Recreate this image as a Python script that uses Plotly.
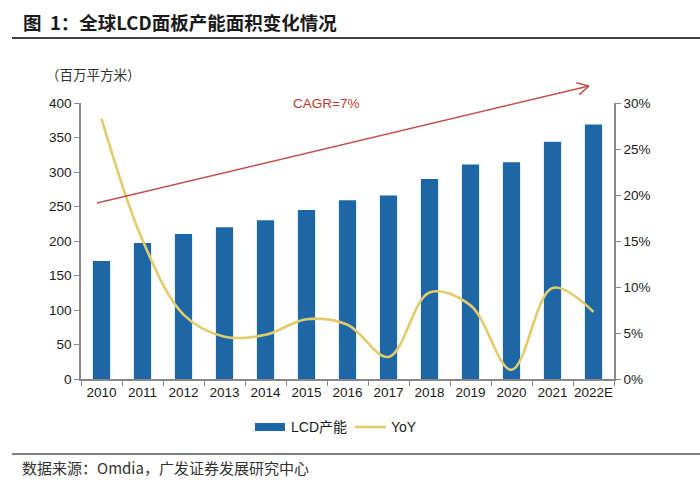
import math
import plotly.graph_objects as go

years = ["2010", "2011", "2012", "2013", "2014", "2015", "2016", "2017", "2018", "2019", "2020", "2021", "2022E"]
lcd_capacity = [171, 197, 210, 220, 230, 245, 259, 266, 290, 311, 314, 344, 369]
yoy = [0.283, 0.151, 0.070, 0.046, 0.048, 0.065, 0.059, 0.024, 0.094, 0.080, 0.010, 0.099, 0.073]

FONT = "Liberation Sans, Arial, Noto Sans CJK SC"
CJK = "Noto Sans CJK SC, Liberation Sans"
W, H = 700, 487
L, R, T, B = 81, 86, 103, 108
pw, ph = W - L - R, H - T - B
BAR_COLOR = "#1D67A7"
LINE_COLOR = "#E2CB6B"


def px(x):
    return (x - L) / pw


def py(y):
    return (H - B - y) / ph


fig = go.Figure()
fig.add_trace(go.Bar(
    x=years, y=lcd_capacity, name="LCD产能",
    marker=dict(color=BAR_COLOR, line=dict(width=0)),
    yaxis="y", showlegend=False,
))
fig.add_trace(go.Scatter(
    x=years, y=yoy, name="YoY", mode="lines",
    line=dict(color=LINE_COLOR, width=2.6, shape="spline", smoothing=1.0),
    yaxis="y2", showlegend=False,
))

# arrow (CAGR annotation)
x0, y0, x1, y1 = 97, 203, 589, 86
ang = math.atan2(y1 - y0, x1 - x0)
wl = 13
shapes = [
    dict(type="line", xref="paper", yref="paper", x0=px(x0), y0=py(y0), x1=px(x1), y1=py(y1),
         line=dict(color="#C0504D", width=1.5)),
]
for s in (1, -1):
    a = ang + math.pi - s * math.radians(28)
    shapes.append(dict(type="line", xref="paper", yref="paper",
                       x0=px(x1), y0=py(y1), x1=px(x1 + wl * math.cos(a)), y1=py(y1 + wl * math.sin(a)),
                       line=dict(color="#C0504D", width=1.5)))
# title rule and footer rule
shapes.append(dict(type="line", xref="paper", yref="paper", x0=px(12), x1=px(700), y0=py(38), y1=py(38),
                   line=dict(color="#000000", width=1.5)))
shapes.append(dict(type="line", xref="paper", yref="paper", x0=px(12), x1=px(700), y0=py(454), y1=py(454),
                   line=dict(color="#000000", width=1)))
# custom legend swatches
shapes.append(dict(type="rect", xref="paper", yref="paper", x0=px(255), x1=px(285), y0=py(423), y1=py(431),
                   fillcolor=BAR_COLOR, line=dict(width=0)))
shapes.append(dict(type="line", xref="paper", yref="paper", x0=px(355), x1=px(386), y0=py(427), y1=py(427),
                   line=dict(color=LINE_COLOR, width=2.6)))

annotations = [
    dict(text="<b>图  1：全球LCD面板产能面积变化情况</b>", xref="paper", yref="paper",
         x=px(21), y=py(22), xanchor="left", yanchor="middle", showarrow=False,
         font=dict(family=CJK, size=18.5, color="#1a1a1a")),
    dict(text="（百万平方米）", xref="paper", yref="paper",
         x=px(44), y=py(74), xanchor="left", yanchor="middle", showarrow=False,
         font=dict(family=CJK, size=13.5, color="#333333")),
    dict(text="CAGR=7%", xref="paper", yref="paper",
         x=px(326), y=py(103), xanchor="center", yanchor="middle", showarrow=False,
         font=dict(family=FONT, size=13.5, color="#C0392B")),
    dict(text="数据来源：Omdia，广发证券发展研究中心", xref="paper", yref="paper",
         x=px(20), y=py(467), xanchor="left", yanchor="middle", showarrow=False,
         font=dict(family=CJK, size=15, color="#333333")),
    dict(text="LCD产能", xref="paper", yref="paper",
         x=px(289), y=py(427), xanchor="left", yanchor="middle", showarrow=False,
         font=dict(family=FONT, size=14, color="#1a1a1a")),
    dict(text="YoY", xref="paper", yref="paper",
         x=px(389), y=py(427), xanchor="left", yanchor="middle", showarrow=False,
         font=dict(family=FONT, size=14, color="#1a1a1a")),
]

fig.update_layout(
    width=W, height=H,
    margin=dict(l=L, r=R, t=T, b=B),
    paper_bgcolor="white", plot_bgcolor="white",
    font=dict(family=FONT, size=13.5, color="#1a1a1a"),
    bargap=0.58,
    showlegend=False,
    xaxis=dict(type="category", showline=True, linecolor="#888888", linewidth=1.5,
               ticks="outside", ticklen=5, tickcolor="#888888", tickson="boundaries",
               showgrid=False, zeroline=False, tickangle=0, tickfont=dict(size=13.5)),
    yaxis=dict(range=[0, 400], dtick=50, showline=True, linecolor="#888888", linewidth=1.5,
               ticks="outside", ticklen=5, tickcolor="#888888", showgrid=False, zeroline=False,
               tickfont=dict(size=13.5)),
    yaxis2=dict(range=[0, 0.30], dtick=0.05, tickformat=".0%", overlaying="y", side="right",
                showline=True, linecolor="#888888", linewidth=1.5, ticks="outside", ticklen=5,
                tickcolor="#888888", showgrid=False, zeroline=False, tickfont=dict(size=13.5)),
    shapes=shapes,
    annotations=annotations,
)

fig.write_html("out.html")
